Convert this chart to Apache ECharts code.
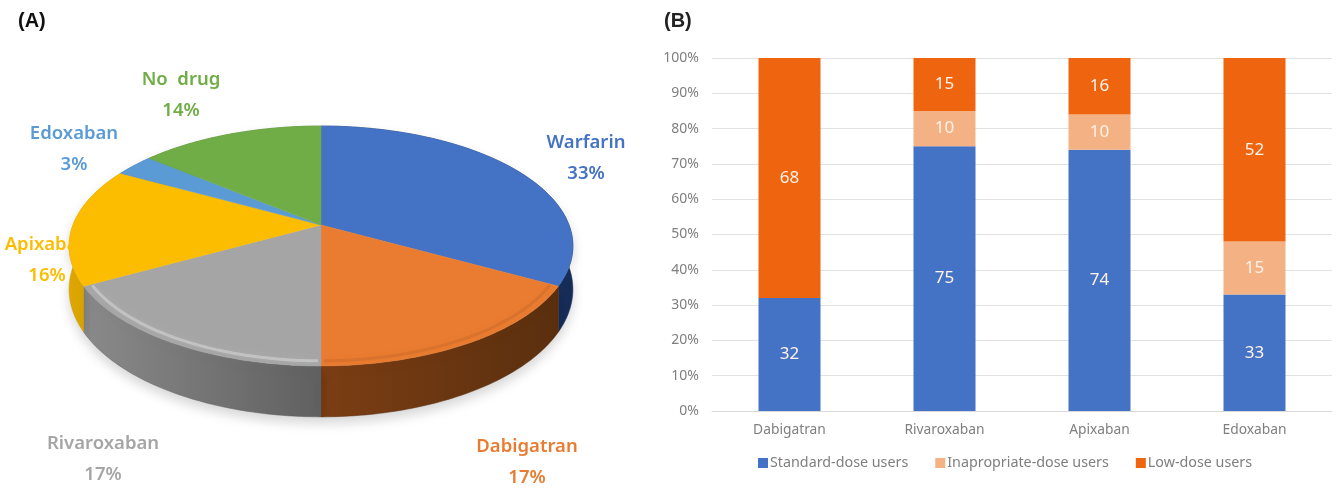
<!DOCTYPE html>
<html>
<head>
<meta charset="utf-8">
<style>
html, body { margin: 0; padding: 0; background: #fff; }
#main { width: 1339px; height: 488px; }
</style>
<script src="https://cdn.jsdelivr.net/npm/echarts@6/dist/echarts.min.js"></script>
</head>
<body>
<div id="main"></div>
<script>
// (A) pie data
var pieNames = ['Warfarin', 'Dabigatran', 'Rivaroxaban', 'Apixaban', 'Edoxaban', 'No  drug'];
var pieValues = [33, 17, 17, 16, 3, 14];

// (B) bar data
var barCategories = ['Dabigatran', 'Rivaroxaban', 'Apixaban', 'Edoxaban'];
var standardDose = [32, 75, 74, 33];
var inappropriateDose = [null, 10, 10, 15];
var lowDose = [68, 15, 16, 52];

// colours and layout of the 3D pie
var pieColors = ['#4472c4', '#e97c30', '#a5a5a5', '#fcbc00', '#5b9bd5', '#70ad47'];
var wallColors = [
    ['#22407a', '#172d58'],
    ['#7c3e14', '#5a2f0e'],
    ['#8a8a8a', '#606060'],
    ['#e0a800', '#c99700'],
    ['#3a6a96', '#3a6a96'],
    ['#4c7a30', '#4c7a30']
];
var rimColors = [null, 'rgba(150,80,35,0.18)', 'rgba(235,235,235,0.4)', null, null, null];
var labelCenters = [[586, 158], [527, 462], [103, 459], [47, 260], [74, 149], [181, 95]];
var pieBox = { cx: 321, cy: 225, rx: 248, ry: 116.3, k: 0.175, depth: 42 };

// 角度+半径 -> 屏幕坐标（简单透视）
function project(angle, r, drop) {
    var u = Math.sin(angle) * r;
    var v = -Math.cos(angle) * r;
    var s = 1 / (1 - pieBox.k * v);
    return [pieBox.cx + pieBox.rx * u * s, pieBox.cy + pieBox.ry * v * s + (drop ? pieBox.depth * s : 0)];
}

function sliceAngles(index) {
    var total = 0, before = 0;
    for (var i = 0; i < pieValues.length; i++) {
        total += pieValues[i];
        if (i < index) before += pieValues[i];
    }
    return [before / total * Math.PI * 2, (before + pieValues[index]) / total * Math.PI * 2];
}

function arcPoints(a0, a1, r, drop) {
    var pts = [];
    var n = Math.max(4, Math.ceil((a1 - a0) * 60));
    for (var i = 0; i <= n; i++) {
        pts.push(project(a0 + (a1 - a0) * i / n, r, drop));
    }
    return pts;
}

// 侧面
function renderWall(params, api) {
    var i = params.dataIndex;
    var a = sliceAngles(i);
    var top = arcPoints(a[0], a[1], 1, false);
    var bottom = arcPoints(a[0], a[1], 1, true).reverse();
    var c0 = wallColors[i][0], c1 = wallColors[i][1];
    return {
        type: 'polygon',
        shape: { points: top.concat(bottom) },
        style: {
            fill: new echarts.graphic.LinearGradient(0, 0, 1, 0, [
                { offset: 0, color: c0 },
                { offset: 1, color: c1 }
            ]),
            stroke: c1,
            lineWidth: 0.5,
            shadowColor: 'rgba(0,0,0,0.16)',
            shadowBlur: 12,
            shadowOffsetY: 6
        }
    };
}

// 顶面 + 标签
function renderTop(params, api) {
    var i = params.dataIndex;
    var a = sliceAngles(i);
    var children = [{
        type: 'polygon',
        shape: { points: [[pieBox.cx, pieBox.cy]].concat(arcPoints(a[0], a[1], 1, false)) },
        style: { fill: pieColors[i], stroke: pieColors[i], lineWidth: 0.5 }
    }];
    if (rimColors[i]) {
        children.push({
            type: 'polyline',
            shape: { points: arcPoints(a[0] + 0.01, a[1] - 0.01, 0.97, false) },
            style: { fill: null, stroke: rimColors[i], lineWidth: 3, shadowColor: rimColors[i], shadowBlur: 8 }
        });
    }
    children.push({
        type: 'text',
        z2: 10,
        style: {
            x: labelCenters[i][0],
            y: labelCenters[i][1],
            text: pieNames[i] + '\n' + api.value(0) + '%',
            fill: pieColors[i],
            font: '600 18.5px "Noto Sans", sans-serif',
            lineHeight: 31,
            align: 'center',
            verticalAlign: 'middle'
        }
    });
    return { type: 'group', children: children };
}

var pieData = pieValues.map(function (v) { return [v]; });

function barLabel() {
    return { show: true, position: 'inside', color: '#fff3ea', fontSize: 17, fontFamily: '"Noto Sans", sans-serif' };
}

var option = {
    animation: false,
    backgroundColor: '#fff',
    title: [
        { text: '(A)', left: 18, top: 11, padding: 0, textStyle: { fontSize: 20, fontWeight: 'bold', color: '#111', fontFamily: '"Liberation Sans", sans-serif' } },
        { text: '(B)', left: 664, top: 11, padding: 0, textStyle: { fontSize: 20, fontWeight: 'bold', color: '#222', fontFamily: '"Liberation Sans", sans-serif' } }
    ],
    grid: { left: 712, right: 7, top: 58, bottom: 77 },
    legend: {
        left: 753,
        top: 451,
        icon: 'rect',
        itemWidth: 10,
        itemHeight: 10,
        itemGap: 27,
        textStyle: { color: '#7f7f7f', fontSize: 14.3, padding: [0, 0, 0, -3], fontFamily: '"Noto Sans", sans-serif' },
        data: ['Standard-dose users', 'Inapropriate-dose users', 'Low-dose users']
    },
    xAxis: {
        type: 'category',
        data: barCategories,
        axisTick: { show: false },
        axisLine: { lineStyle: { color: '#d9d9d9' } },
        axisLabel: { color: '#7f7f7f', fontSize: 13.8, margin: 12, fontFamily: '"Noto Sans", sans-serif' }
    },
    yAxis: {
        type: 'value',
        min: 0,
        max: 100,
        interval: 10,
        axisLine: { show: false },
        axisTick: { show: false },
        axisLabel: { formatter: '{value}%', color: '#7f7f7f', fontSize: 14, margin: 13, fontFamily: '"Noto Sans", sans-serif' },
        splitLine: { lineStyle: { color: '#e2e2e2' } }
    },
    series: [
        { name: 'Standard-dose users', type: 'bar', stack: 'dose', barWidth: 62, data: standardDose, itemStyle: { color: '#4472c4' }, label: barLabel() },
        { name: 'Inapropriate-dose users', type: 'bar', stack: 'dose', barWidth: 62, data: inappropriateDose, itemStyle: { color: '#f4b183' }, label: barLabel() },
        { name: 'Low-dose users', type: 'bar', stack: 'dose', barWidth: 62, data: lowDose, itemStyle: { color: '#ee640f' }, label: barLabel() },
        { type: 'custom', coordinateSystem: 'none', data: pieData, renderItem: renderWall, z: 3 },
        { type: 'custom', coordinateSystem: 'none', data: pieData, renderItem: renderTop, z: 4 }
    ]
};

var myChart = echarts.init(document.getElementById('main'));
myChart.setOption(option);
</script>
</body>
</html>
